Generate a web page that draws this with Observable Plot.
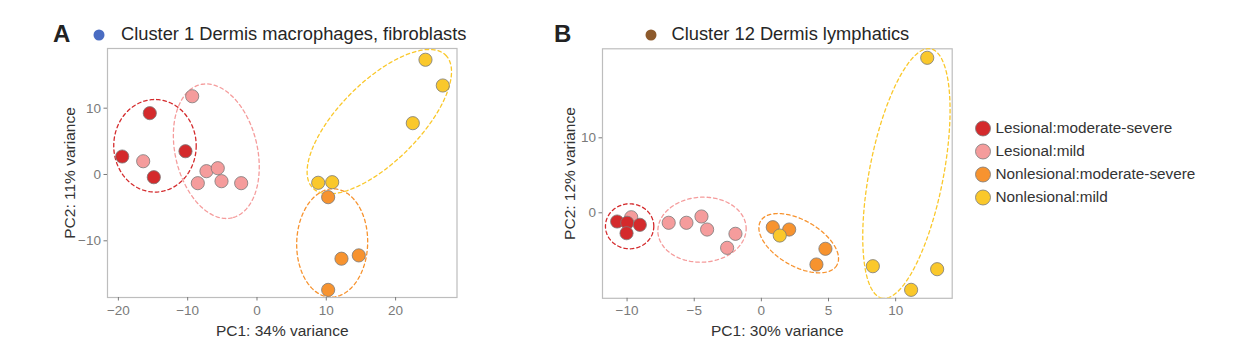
<!DOCTYPE html>
<html><head><meta charset="utf-8">
<script src="https://cdn.jsdelivr.net/npm/d3@7"></script>
<script src="https://cdn.jsdelivr.net/npm/@observablehq/plot@0.6"></script>
<style>
body{margin:0;background:#fff;}
#root{position:relative;width:1240px;height:353px;overflow:hidden;background:#fff;}
#root > svg{position:absolute;}
</style></head><body><div id="root"></div>
<script>
// ---- shared categories ----
const groups = ["Lesional:moderate-severe","Lesional:mild","Nonlesional:moderate-severe","Nonlesional:mild"];
const groupColors = ["#d42a2c","#f59c9c","#f7932f","#fac82b"];
const drawOrder = [1,0,2,3]; // order in which groups are layered

// ---- Panel A: Cluster 1 ----
const titleA = "Cluster 1 Dermis macrophages, fibroblasts";
const aGroup = [0,0,0,0, 1,1,1,1,1,1,1, 2,2,2,2, 3,3,3,3,3];
const aPC1 = [-15.47,-19.45,-14.89,-10.32, -16.42,-9.35,-7.29,-5.66,-8.54,-5.12,-2.28, 10.27,12.19,14.69,10.27, 8.83,10.85,22.48,26.81,24.31];
const aPC2 = [9.25,2.71,-0.41,3.51, 2.0,11.8,0.5,0.95,-1.31,-1.01,-1.31, -3.42,-12.7,-12.2,-17.4, -1.25,-1.16,7.74,13.42,17.3];
const aEllCx = [-14.72,-5.87,10.85,17.65];
const aEllCy = [4.33,3.51,-10.33,7.96];
const aEllA = [5.95,9.88,7.82,13.56];
const aEllB = [6.68,5.92,5.12,5.77];
const aEllAngle = [0,76.6,91.7,-45];
const aXTicks = [-20,-10,0,10,20];
const aYTicks = [-10,0,10];
const aXLabel = "PC1: 34% variance";
const aYLabel = "PC2: 11% variance";

// ---- Panel B: Cluster 12 ----
const titleB = "Cluster 12 Dermis lymphatics";
const bGroup = [0,0,0,0, 1,1,1,1,1,1,1, 2,2,2,2, 3,3,3,3,3];
const bPC1 = [-10.74,-9.99,-9.05,-10.04, -9.69,-6.9,-5.58,-4.46,-4.04,-1.93,-2.55, 0.85,2.07,4.77,4.1, 1.37,12.35,8.3,13.09,11.15];
const bPC2 = [-1.16,-1.33,-1.6,-2.72, -0.59,-1.33,-1.33,-0.49,-2.23,-2.8,-4.67, -1.92,-2.23,-4.8,-6.89, -3.03,20.67,-7.12,-7.52,-10.27];
const bEllCx = [-9.81,-4.42,2.78,10.8];
const bEllCy = [-1.8,-2.25,-4.05,5.24];
const bEllA = [1.80,3.29,3.28,9.46];
const bEllB = [1.675,2.42,1.71,2.755];
const bEllAngle = [0,-3,30,101];
const bXTicks = [-10,-5,0,5,10];
const bYTicks = [0,10];
const bXLabel = "PC1: 30% variance";
const bYLabel = "PC2: 12% variance";

const font = "'Liberation Sans', Arial, Helvetica, sans-serif";
const H = 353;

function panel(o) {
  const kx = (o.width - o.ml - o.mr) / (o.xDomain[1] - o.xDomain[0]);
  const ky = (H - o.mt - o.mb) / (o.yDomain[1] - o.yDomain[0]);
  const pts = o.pc1.map((x, i) => ({x, y: o.pc2[i], g: groups[o.grp[i]], k: drawOrder.indexOf(o.grp[i]), i}))
    .sort((p, q) => p.k - q.k || p.i - q.i);
  const ellPts = [];
  o.cx.forEach((cx, j) => {
    const th = o.ang[j] * Math.PI / 180, a = o.ea[j], b = o.eb[j], cy = o.cy[j];
    for (let s = 0; s <= 144; s++) {
      const t = s / 144 * 2 * Math.PI;
      const ux = a * Math.cos(t) * Math.cos(th) - b * Math.sin(t) * Math.sin(th);
      const uy = a * Math.cos(t) * Math.sin(th) + b * Math.sin(t) * Math.cos(th);
      ellPts.push({x: cx + ux, y: cy - uy * kx / ky, g: groups[j]});
    }
  });
  return Plot.plot({
    width: o.width, height: H,
    marginLeft: o.ml, marginRight: o.mr, marginTop: o.mt, marginBottom: o.mb,
    style: {fontFamily: font, color: "#7a7a7a", background: "transparent", overflow: "visible"},
    x: {domain: o.xDomain, label: null},
    y: {domain: o.yDomain, label: null},
    color: {domain: groups, range: groupColors},
    marks: [
      Plot.frame({stroke: "#bdbdbd", strokeWidth: 1.2}),
      Plot.axisX({ticks: o.xTicks, tickSize: 3.5, tickPadding: 4, fontSize: 13.5, label: null}),
      Plot.axisY({ticks: o.yTicks, tickSize: 3.5, tickPadding: 3, fontSize: 13.5, label: null}),
      Plot.line(ellPts, {x: "x", y: "y", z: "g", stroke: "g", strokeWidth: 1.3, strokeDasharray: "3.5,3", clip: true}),
      Plot.dot(pts, {x: "x", y: "y", fill: "g", r: 6.6, stroke: "#7a7a7a", strokeWidth: 0.8}),
      Plot.text([o.xLabel], {text: d => d, frameAnchor: "bottom", lineAnchor: "bottom", textAnchor: "middle", dy: 38, fontSize: 15.5, fill: "#333"}),
      Plot.text([o.yLabel], {text: d => d, frameAnchor: "left", rotate: -90, textAnchor: "middle", lineAnchor: "middle", dx: o.yLabelDx, fontSize: 15.5, fill: "#333"})
    ]
  });
}

const root = document.getElementById("root");

const svgA = panel({pc1: aPC1, pc2: aPC2, grp: aGroup, cx: aEllCx, cy: aEllCy, ea: aEllA, eb: aEllB, ang: aEllAngle,
  xDomain: [-21.57, 28.86], yDomain: [-18.55, 19.0], xTicks: aXTicks, yTicks: aYTicks,
  xLabel: aXLabel, yLabel: aYLabel, width: 500, ml: 107, mr: 43.5, mt: 48, mb: 56, yLabelDx: -37});
svgA.style.left = "0px"; svgA.style.top = "0px";
root.appendChild(svgA);

const svgB = panel({pc1: bPC1, pc2: bPC2, grp: bGroup, cx: bEllCx, cy: bEllCy, ea: bEllA, eb: bEllB, ang: bEllAngle,
  xDomain: [-11.83, 14.21], yDomain: [-11.4, 21.87], xTicks: bXTicks, yTicks: bYTicks,
  xLabel: bXLabel, yLabel: bYLabel, width: 500, ml: 102, mr: 48.3, mt: 48.3, mb: 55.2, yLabelDx: -32});
svgB.style.left = "500px"; svgB.style.top = "0px";
root.appendChild(svgB);

// ---- legend ----
const legend = Plot.plot({
  width: 260, height: 120, margin: 0,
  style: {fontFamily: font, background: "transparent", overflow: "visible"},
  y: {type: "point", domain: groups, range: [27.3, 96.7], padding: 0, axis: null},
  color: {domain: groups, range: groupColors},
  marks: [
    Plot.dot(groups, {y: d => d, frameAnchor: "left", dx: 22.5, r: 7.5, fill: d => d, stroke: "#7a7a7a", strokeWidth: 0.8}),
    Plot.text(groups, {y: d => d, text: d => d, frameAnchor: "left", dx: 35, textAnchor: "start", fontSize: 15.3, fill: "#333"})
  ]
});
legend.style.left = "960px"; legend.style.top = "100px";
root.appendChild(legend);

// ---- titles ----
const over = d3.select(root).append("svg").attr("width", 1240).attr("height", 60)
  .style("left", "0px").style("top", "0px").style("font-family", font);
const titles = [
  {letter: "A", lx: 53, dotX: 99, dotColor: "#4a6cc2", tx: 121, text: titleA},
  {letter: "B", lx: 554, dotX: 651, dotColor: "#8d5a2c", tx: 671.5, text: titleB}
];
titles.forEach(t => {
  over.append("text").attr("x", t.lx).attr("y", 41.5).attr("font-size", 24).attr("font-weight", "bold").attr("fill", "#222").text(t.letter);
  over.append("circle").attr("cx", t.dotX).attr("cy", 35).attr("r", 5.5).attr("fill", t.dotColor);
  over.append("text").attr("x", t.tx).attr("y", 40).attr("font-size", 18.3).attr("fill", "#262626").text(t.text);
});
</script></body></html>
